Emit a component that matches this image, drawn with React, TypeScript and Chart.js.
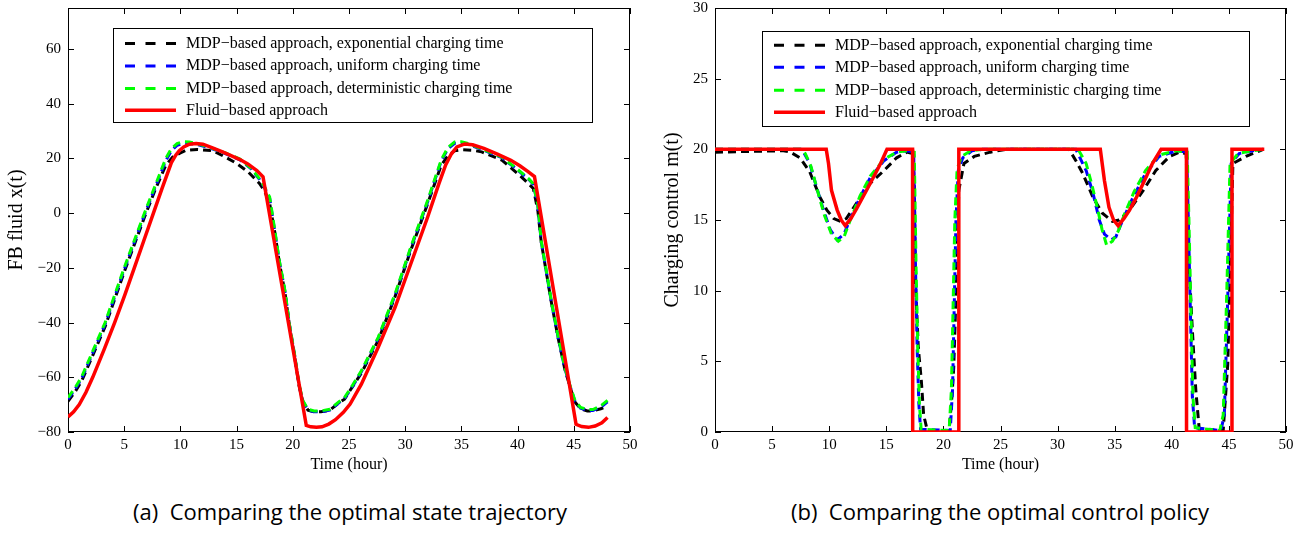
import React, { useEffect, useRef } from "react";
import { Chart, registerables } from "chart.js";

Chart.register(...registerables);
Chart.defaults.color = "#000";

const MINUS = "\u2212";
const SERIF = "'Liberation Serif', 'Times New Roman', serif";

// ---------- labels ----------
const seriesLabels = [
  `MDP${MINUS}based approach, exponential charging time`,
  `MDP${MINUS}based approach, uniform charging time`,
  `MDP${MINUS}based approach, deterministic charging time`,
  `Fluid${MINUS}based approach`,
];
const seriesColors = ["#000000", "#0000ff", "#00ff00", "#ff0000"];
const xAxisTitle = "Time (hour)";
const stateAxisTitle = "FB fluid x(t)";
const controlAxisTitle = "Charging control m(t)";
const captionA = "(a)  Comparing the optimal state trajectory";
const captionB = "(b)  Comparing the optimal control policy";

// ---------- ticks ----------
const timeTicks = [0, 5, 10, 15, 20, 25, 30, 35, 40, 45, 50];
const stateTicks = [-80, -60, -40, -20, 0, 20, 40, 60];
const controlTicks = [0, 5, 10, 15, 20, 25, 30];

// ---------- state x(t) ----------
const stateExpTime = [0, 0.6, 1.2, 2.25, 3.3, 4.15, 5.0, 5.9, 6.8, 7.75, 8.7, 9.3, 10.0, 10.5, 11.5, 12.9, 14.0, 15.0, 16.0, 17.05, 17.5, 17.94, 18.4, 18.8, 19.3, 19.7, 20.2, 20.55, 20.9, 21.35, 21.9, 22.5, 23.3, 24.2, 24.6, 25.3, 26.1, 27.6, 29.1, 30.5, 32.0, 33.2, 33.8, 34.4, 35.0, 36.0, 36.8, 38.6, 40.0, 40.8, 41.4, 41.8, 42.1, 43.0, 43.6, 44.2, 44.7, 45.1, 45.6, 46.2, 46.7, 47.4, 48.0];
const stateExp = [-68.8, -65.5, -61.5, -51.5, -41.5, -31.5, -21.5, -11.5, -1.5, 8.5, 17.5, 20.5, 22.0, 23.0, 23.3, 22.8, 20.5, 18.2, 15.2, 10.8, 8, 3.5, -7, -18, -29, -41, -53.5, -63, -69, -72, -72.6, -72.6, -72, -69, -68, -63.5, -58.5, -46.5, -30.5, -13.5, 3.5, 17.5, 21, 22.8, 23.2, 23.0, 22.4, 19.4, 14.5, 11.5, 9, 1, -10.5, -32.5, -45.5, -57, -64, -69, -71.5, -72.3, -72.3, -71.5, -70.5];

const stateUniTime = [0, 0.6, 1.2, 2.25, 3.3, 4.15, 5.0, 5.9, 6.8, 7.75, 8.7, 9.2, 9.7, 10.2, 10.8, 11.6, 12.5, 14.0, 15.3, 16.3, 17.05, 17.5, 17.94, 18.4, 18.8, 19.3, 19.7, 20.2, 20.55, 20.9, 21.35, 21.9, 22.5, 23.3, 24.2, 24.6, 25.3, 26.1, 27.6, 29.1, 30.5, 32.0, 33.2, 33.8, 34.4, 35.0, 35.6, 36.8, 38.6, 40.0, 41.0, 41.4, 41.8, 42.1, 43.0, 43.6, 44.2, 44.7, 45.1, 45.6, 46.2, 46.7, 47.4, 48.0];
const stateUni = [-68, -64.6, -60.6, -50.6, -40.6, -30.6, -20.6, -10.6, -0.6, 9.4, 19.2, 22.8, 24.8, 25.5, 25.5, 25.0, 24.0, 21.8, 19.5, 16.2, 12.3, 9.2, 5.5, -6.8, -17.6, -28.6, -40.8, -53, -62.8, -69, -72, -72.6, -72.6, -72, -69, -67.8, -63.4, -58, -45.8, -30, -12.8, 4.2, 19, 23.5, 25.5, 25.6, 25.2, 23.3, 20.3, 15.8, 12.3, 10.6, 2.8, -10.3, -32.3, -45.3, -56.7, -63.8, -68.8, -71.3, -72.1, -72.1, -70.9, -69];

const stateDetTime = [0, 0.6, 1.2, 2.25, 3.3, 4.15, 5.0, 5.9, 6.8, 7.75, 8.7, 9.2, 9.7, 10.2, 10.8, 11.6, 12.5, 14.0, 15.3, 16.3, 17.05, 17.5, 17.94, 18.4, 18.8, 19.3, 19.7, 20.2, 20.55, 20.9, 21.35, 21.9, 22.5, 23.3, 24.2, 24.6, 25.3, 26.1, 27.6, 29.1, 30.5, 32.0, 33.2, 33.8, 34.4, 35.0, 35.6, 36.8, 38.6, 40.0, 41.0, 41.4, 41.8, 42.1, 43.0, 43.6, 44.2, 44.7, 45.1, 45.6, 46.2, 46.7, 47.4, 48.0];
const stateDet = [-67.4, -64, -60, -50, -40, -30, -20, -10, 0, 10, 20, 23.6, 25.4, 26.1, 26.0, 25.3, 24.2, 22.0, 19.8, 16.4, 12.5, 9.5, 5.9, -6.3, -17.3, -28.3, -40.5, -52.7, -62.5, -68.6, -71.7, -72.3, -72.3, -71.7, -68.6, -67.4, -63, -57.6, -45.4, -29.5, -12.4, 4.7, 19.4, 24, 26.0, 26.1, 25.5, 23.5, 20.5, 16, 12.5, 10.8, 3, -10, -32, -45, -56.4, -63.5, -68.5, -71, -71.8, -71.8, -70.5, -68.4];

const stateFluidTime = [0, 0.5, 1.0, 1.6, 2.2, 3.2, 4.15, 5.05, 5.9, 6.75, 7.6, 8.4, 9.2, 9.6, 9.9, 10.3, 10.8, 11.4, 12.0, 12.8, 13.8, 15.3, 16.0, 16.8, 17.35, 21.2, 21.6, 22.1, 22.6, 23.2, 23.8, 24.5, 25.1, 26.1, 27.6, 29.1, 30.5, 32.0, 33.0, 33.6, 34.1, 34.6, 35.3, 36.0, 37.0, 38.2, 39.4, 40.2, 40.9, 41.5, 45.2, 45.7, 46.3, 46.9, 47.5, 48.0];
const stateFluid = [-74.5, -72.6, -70, -65.5, -60, -50, -40, -30, -20, -10, 0, 9.4, 18.5, 21.3, 22.8, 24.2, 25.2, 25.5, 25.2, 24.0, 22.3, 19.6, 18.0, 15.6, 13.3, -77.6, -78.1, -78.3, -78.1, -77.1, -75.5, -72.8, -69.8, -62.5, -49, -34.4, -18.5, -1.4, 10.8, 17.6, 21.6, 24.2, 25.3, 25.0, 23.7, 21.6, 19.3, 17.3, 15.3, 13.4, -77.2, -78.0, -78.3, -77.8, -76.6, -74.7];

// ---------- control m(t) ----------
const ctrlExpTime = [0, 6.0, 6.6, 7.45, 8.3, 9.2, 9.8, 10.4, 11.0, 11.5, 12.4, 13.6, 14.8, 15.9, 16.8, 17.3, 17.45, 17.55, 17.8, 18.07, 18.27, 18.6, 20.5, 20.76, 20.9, 21.05, 21.2, 21.35, 21.8, 22.7, 24.1, 25.5, 31.0, 31.6, 32.2, 33.1, 33.9, 34.8, 35.4, 36.3, 37.5, 38.6, 39.8, 40.7, 41.26, 41.5, 41.8, 42.1, 42.4, 44.5, 44.9, 45.2, 45.35, 46.5, 47.7, 48.0];
const ctrlExp = [19.8, 19.9, 19.8, 19.4, 18.4, 16.6, 15.7, 15.1, 14.9, 15.1, 16.2, 17.6, 18.5, 19.4, 19.8, 19.7, 17.5, 10.7, 6.0, 3.6, 1.2, 0.1, 0.1, 2.65, 4.5, 8.3, 13, 17.1, 19, 19.5, 19.8, 20, 20, 19.2, 18.3, 16.6, 15.5, 14.9, 15.0, 15.7, 17.1, 18.5, 19.5, 19.8, 19.7, 12, 7.2, 3.0, 0.2, 0.1, 4.8, 14.2, 19, 19.5, 19.9, 20];

const ctrlUniTime = [0, 7.5, 7.75, 8.3, 8.9, 9.5, 10.1, 10.7, 11.3, 11.8, 12.7, 13.6, 14.8, 15.9, 16.8, 17.4, 17.55, 17.7, 17.85, 18.0, 20.6, 20.8, 20.95, 21.1, 21.3, 21.7, 22.5, 23.5, 31.6, 32.5, 33.1, 33.65, 34.1, 34.7, 35.1, 35.7, 36.6, 37.7, 38.9, 40.4, 41.3, 41.45, 41.6, 41.8, 42.0, 44.3, 44.6, 44.9, 45.2, 45.9, 47.1, 48.0];
const ctrlUni = [20, 20, 19.8, 19.0, 17.3, 15.7, 14.3, 13.6, 14.0, 15.0, 16.6, 18.0, 19.2, 19.8, 19.9, 19.8, 12, 6, 2, 0.2, 0.1, 3, 9, 15, 18.5, 19.4, 19.9, 20, 20, 18.5, 16.9, 15.0, 14.0, 13.6, 13.8, 15.0, 16.6, 18.3, 19.5, 19.9, 19.8, 15, 9.5, 2.5, 0.3, 0.1, 1.2, 9.5, 19, 19.7, 19.9, 20];

const ctrlDetTime = [0, 7.6, 7.9, 8.4, 9.0, 9.6, 10.2, 10.8, 11.3, 11.8, 12.7, 13.6, 14.8, 15.9, 16.8, 17.45, 17.6, 17.75, 17.9, 18.05, 20.5, 20.7, 20.85, 21.0, 21.2, 21.6, 22.4, 23.5, 31.8, 32.5, 33.0, 33.5, 33.9, 34.3, 34.8, 35.3, 35.9, 36.7, 37.7, 38.9, 40.4, 41.35, 41.5, 41.65, 41.85, 42.05, 44.2, 44.5, 44.8, 45.1, 45.8, 47.0, 48.0];
const ctrlDet = [20, 20, 19.7, 18.8, 17.0, 15.3, 14.0, 13.5, 13.8, 14.9, 16.7, 18.1, 19.3, 19.8, 19.9, 19.8, 12, 6, 2, 0.2, 0.1, 3, 9, 15, 18.6, 19.5, 19.9, 20, 20, 19.0, 17.5, 15.8, 14.3, 13.2, 13.5, 14.2, 15.5, 17.0, 18.5, 19.6, 19.9, 19.8, 15, 9.5, 2.5, 0.3, 0.1, 1.2, 9.5, 19, 19.7, 19.9, 20];

const ctrlFluidTime = [0, 9.74, 9.94, 10.2, 10.7, 11.05, 11.4, 11.9, 12.4, 13.0, 13.6, 14.5, 15.06, 17.3, 17.31, 21.34, 21.35, 33.74, 34.1, 34.5, 34.9, 35.3, 35.8, 36.3, 36.9, 37.5, 38.3, 39.06, 41.28, 41.29, 45.26, 45.27, 48.1];
const ctrlFluid = [20, 20, 19, 17.1, 15.7, 15.0, 14.6, 15.1, 15.8, 16.7, 17.6, 19.0, 20, 20, 0, 0, 20, 20, 17.8, 15.9, 15.0, 14.6, 15.1, 15.7, 16.6, 17.6, 19.0, 20, 20, 0, 0, 20, 20];

type Series = { t: number[]; v: number[] };

type Spec = {
  series: Series[];
  yMin: number;
  yMax: number;
  yTicks: number[];
  yTitle: string;
  yTitlePad: number;
  yWidth: number;
  padRight: number;
  legend: { dx: number; dy: number; w: number; h: number; rows: number[] };
};

function makeAxesPlugin(lg: Spec["legend"]) {
  return {
    id: "matlabAxes",
    beforeDatasetsDraw(chart: any) {
      const { ctx, chartArea: a } = chart;
      const xs = chart.scales.x;
      const ys = chart.scales.y;
      ctx.save();
      ctx.strokeStyle = "#000";
      ctx.lineWidth = 1;
      ctx.setLineDash([]);
      ctx.strokeRect(a.left + 0.5, a.top + 0.5, a.right - a.left - 1, a.bottom - a.top - 1);
      const L = 6;
      ctx.beginPath();
      for (const tk of xs.ticks) {
        const p = Math.round(xs.getPixelForValue(tk.value)) + 0.5;
        ctx.moveTo(p, a.bottom);
        ctx.lineTo(p, a.bottom - L);
        ctx.moveTo(p, a.top);
        ctx.lineTo(p, a.top + L);
      }
      for (const tk of ys.ticks) {
        const p = Math.round(ys.getPixelForValue(tk.value)) + 0.5;
        ctx.moveTo(a.left, p);
        ctx.lineTo(a.left + L, p);
        ctx.moveTo(a.right, p);
        ctx.lineTo(a.right - L, p);
      }
      ctx.stroke();
      ctx.restore();
    },
    afterDatasetsDraw(chart: any) {
      const { ctx, chartArea: a } = chart;
      const x = Math.round(a.left + lg.dx);
      const y = Math.round(a.top + lg.dy);
      ctx.save();
      ctx.fillStyle = "#fff";
      ctx.fillRect(x, y, lg.w, lg.h);
      ctx.strokeStyle = "#000";
      ctx.lineWidth = 1;
      ctx.setLineDash([]);
      ctx.strokeRect(x + 0.5, y + 0.5, lg.w, lg.h);
      chart.data.datasets.forEach((ds: any, i: number) => {
        const ry = y + lg.rows[i];
        ctx.save();
        ctx.strokeStyle = ds.borderColor;
        ctx.lineWidth = ds.borderWidth;
        ctx.setLineDash(ds.borderDash && ds.borderDash.length ? [10, 10.5] : []);
        ctx.beginPath();
        ctx.moveTo(x + 12, ry);
        ctx.lineTo(x + 63, ry);
        ctx.stroke();
        ctx.restore();
        ctx.fillStyle = "#000";
        ctx.font = `16px ${SERIF}`;
        ctx.textBaseline = "middle";
        ctx.textAlign = "left";
        ctx.fillText(ds.label, x + 73, ry);
      });
      ctx.restore();
    },
  };
}

function buildChart(canvas: HTMLCanvasElement, spec: Spec) {
  const datasets = spec.series.map((s, i) => ({
    label: seriesLabels[i],
    data: s.t.map((t, k) => ({ x: t, y: s.v[k] })),
    borderColor: seriesColors[i],
    backgroundColor: seriesColors[i],
    borderWidth: i === 3 ? 3.5 : 3,
    borderDash: i === 3 ? [] : [8, 5],
    pointRadius: 0,
    tension: 0,
    fill: false,
    order: 3 - i,
  }));
  const fmt = (v: any) => String(v).replace("-", MINUS);
  return new Chart(canvas, {
    type: "line",
    data: { datasets },
    options: {
      animation: false,
      responsive: false,
      devicePixelRatio: 1,
      layout: { padding: { left: 0, right: spec.padRight, top: 8, bottom: 0 } },
      plugins: { legend: { display: false }, tooltip: { enabled: false } },
      scales: {
        x: {
          type: "linear",
          min: 0,
          max: 50,
          grid: { display: false, drawTicks: false },
          border: { display: false },
          ticks: { font: { family: SERIF, size: 15 }, color: "#000", padding: 4, autoSkip: false, maxRotation: 0, callback: fmt },
          afterBuildTicks: (s: any) => {
            s.ticks = timeTicks.map((v) => ({ value: v }));
          },
          afterFit: (s: any) => {
            s.height = 48;
            s.paddingLeft = 0;
            s.paddingRight = 0;
          },
          title: { display: true, text: xAxisTitle, font: { family: SERIF, size: 16 }, color: "#000", padding: { top: 0, bottom: 6 } },
        },
        y: {
          type: "linear",
          min: spec.yMin,
          max: spec.yMax,
          grid: { display: false, drawTicks: false },
          border: { display: false },
          ticks: { font: { family: SERIF, size: 15 }, color: "#000", padding: 7, autoSkip: false, callback: fmt },
          afterBuildTicks: (s: any) => {
            s.ticks = spec.yTicks.map((v) => ({ value: v }));
          },
          afterFit: (s: any) => {
            s.width = spec.yWidth;
            s.paddingTop = 0;
            s.paddingBottom = 0;
          },
          title: { display: true, text: spec.yTitle, font: { family: SERIF, size: 20 }, color: "#000", padding: { top: spec.yTitlePad, bottom: 0 } },
        },
      },
    },
    plugins: [makeAxesPlugin(spec.legend)],
  } as any);
}

function Plot({ spec, left, width }: { spec: Spec; left: number; width: number }) {
  const ref = useRef<HTMLCanvasElement | null>(null);
  useEffect(() => {
    if (!ref.current) return;
    const chart = buildChart(ref.current, spec);
    return () => chart.destroy();
  }, []);
  return (
    <canvas
      ref={ref}
      width={width}
      height={480}
      style={{ position: "absolute", left, top: 0, width, height: 480 }}
    />
  );
}

const stateSpec: Spec = {
  series: [
    { t: stateExpTime, v: stateExp },
    { t: stateUniTime, v: stateUni },
    { t: stateDetTime, v: stateDet },
    { t: stateFluidTime, v: stateFluid },
  ],
  yMin: -80,
  yMax: 75,
  yTicks: stateTicks,
  yTitle: stateAxisTitle,
  yTitlePad: 5,
  yWidth: 68,
  padRight: 20,
  legend: { dx: 45, dy: 20, w: 479, h: 94, rows: [15.6, 38, 60.6, 82.3] },
};

const controlSpec: Spec = {
  series: [
    { t: ctrlExpTime, v: ctrlExp },
    { t: ctrlUniTime, v: ctrlUni },
    { t: ctrlDetTime, v: ctrlDet },
    { t: ctrlFluidTime, v: ctrlFluid },
  ],
  yMin: 0,
  yMax: 30,
  yTicks: controlTicks,
  yTitle: controlAxisTitle,
  yTitlePad: 11,
  yWidth: 65,
  padRight: 18,
  legend: { dx: 47, dy: 22.5, w: 487, h: 95, rows: [14.3, 36.3, 59.3, 81.3] },
};

const captionStyle: React.CSSProperties = {
  position: "absolute",
  top: 497,
  transform: "translateX(-50%)",
  whiteSpace: "pre",
  fontFamily: "'Open Sans', 'Noto Sans', sans-serif",
  fontSize: 22,
  lineHeight: "28px",
  color: "#000",
};

export default function App() {
  return (
    <div style={{ position: "absolute", left: 0, top: 0, width: 1304, height: 543, background: "#fff", overflow: "hidden" }}>
      <Plot spec={stateSpec} left={0} width={650} />
      <Plot spec={controlSpec} left={650} width={654} />
      <div style={{ ...captionStyle, left: 350 }}>{captionA}</div>
      <div style={{ ...captionStyle, left: 1000 }}>{captionB}</div>
    </div>
  );
}
